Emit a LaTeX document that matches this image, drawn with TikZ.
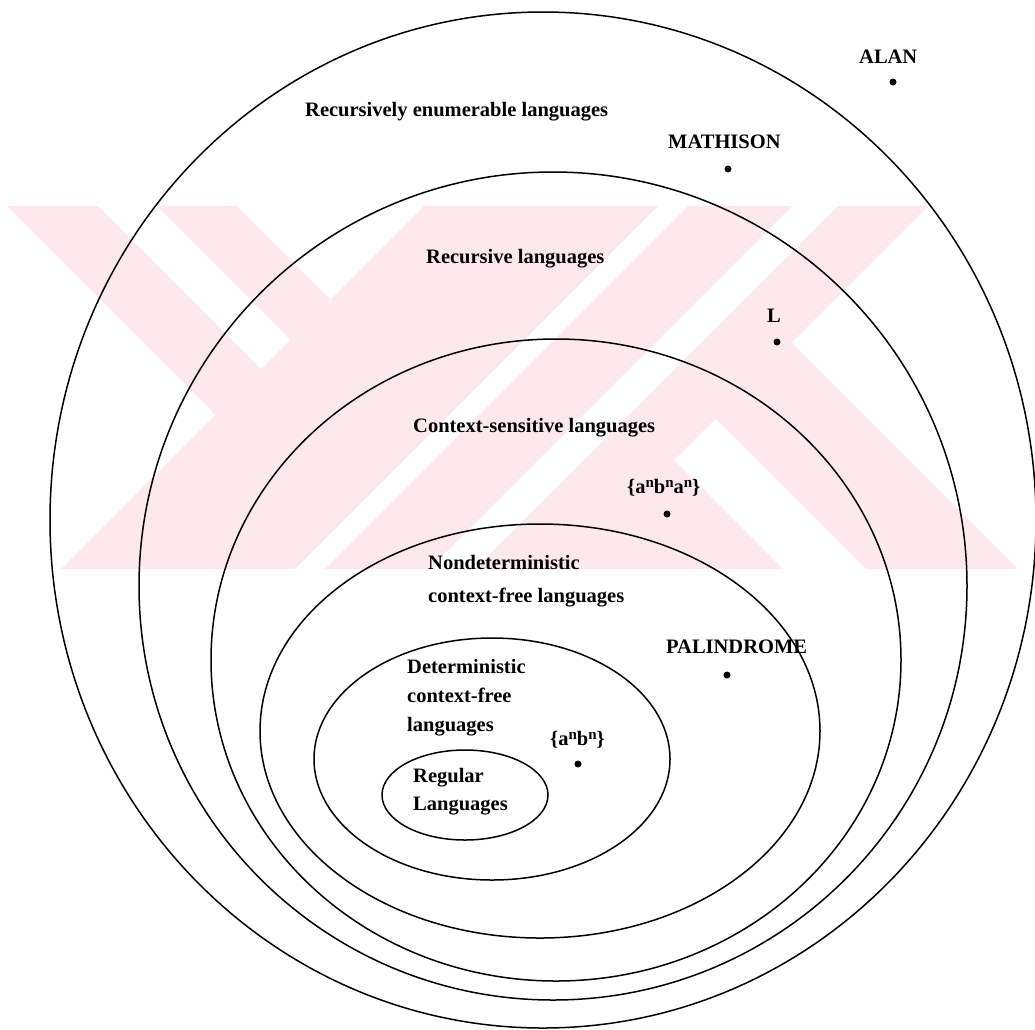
\documentclass[tikz,border=0pt]{standalone}
\usepackage{fontspec}
\setmainfont{Liberation Serif}
\definecolor{wm}{RGB}{253,233,237}
\newcommand{\upn}{\raisebox{0.6ex}{\fontsize{15}{15}\selectfont n}}
\begin{document}
\begin{tikzpicture}[x=1pt,y=-1pt,
  lang/.style={draw=black, line width=1.5pt},
  lbl/.style={font=\bfseries\fontsize{20.5}{29}\selectfont, inner sep=0pt, anchor=base west, align=left},
  pt/.style={circle, fill=black, inner sep=0pt, minimum size=7pt}]
\useasboundingbox (0,0) rectangle (1035,1029);
\fill[white] (0,0) rectangle (1035,1029);
% watermark
\begin{scope}
\clip (7,206) rectangle (1016,568);
\begin{scope}[x={(0.5pt,0.5pt)}, y={(0.5pt,-0.5pt)}]
\fill[wm] (-199,-2000) -- (-108,-2000) -- (-108,630) -- (-199,630) -- cycle;
\fill[wm] (-49,-2000) -- (31,-2000) -- (31,630) -- (-49,630) -- cycle;
\fill[wm] (-3000,630) -- (3000,630) -- (3000,864) -- (-3000,864) -- cycle;
\fill[wm] (-3000,894) -- (3000,894) -- (3000,998) -- (-3000,998) -- cycle;
\fill[wm] (-3000,1044) -- (3000,1044) -- (3000,1134) -- (-3000,1134) -- cycle;
\fill[wm] (-3000,1134) -- (214,1134) -- (214,3000) -- (-3000,3000) -- cycle;
\fill[wm] (297,1134) -- (449,1134) -- (449,3000) -- (297,3000) -- cycle;
\end{scope}
\end{scope}
% language classes
\draw[lang] (543,520) ellipse [x radius=493, y radius=508];
\draw[lang] (553,586) ellipse [x radius=414, y radius=414];
\draw[lang] (556,660) ellipse [x radius=345, y radius=321];
\draw[lang] (540,731) ellipse [x radius=280, y radius=207];
\draw[lang] (492,759) ellipse [x radius=178, y radius=121];
\draw[lang] (465,795) ellipse [x radius=83, y radius=45];
% labels
\node[lbl] (re) at (305,116) {Recursively enumerable languages};
\node[lbl] (alan) at (859,63) {ALAN};
\node[pt] (alandot) at (893,82) {};
\node[lbl] (math) at (668,148) {MATHISON};
\node[pt] (mathdot) at (728,169) {};
\node[lbl] (rec) at (426,263) {Recursive languages};
\node[lbl] (ltxt) at (767,322) {L};
\node[pt] (ldot) at (777,342) {};
\node[lbl] (cs) at (413,432) {Context-sensitive languages};
\node[lbl] (anbnan) at (627,493) {\{a\upn b\upn a\upn\}};
\node[pt] (csdot) at (667,514) {};
\node[lbl, font=\bfseries\fontsize{20.5}{33}\selectfont] (ncfl) at (428,602) {Nondeterministic\\context-free languages};
\node[lbl] (pal) at (666,653) {PALINDROME};
\node[pt] (paldot) at (727,675) {};
\node[lbl] (dcfl) at (407,731) {Deterministic\\context-free\\languages};
\node[lbl] (anbn) at (550,745) {\{a\upn b\upn\}};
\node[pt] (anbndot) at (578,764) {};
\node[lbl, font=\bfseries\fontsize{20.5}{28}\selectfont] (reg) at (413,810) {Regular\\Languages};
\end{tikzpicture}
\end{document}
